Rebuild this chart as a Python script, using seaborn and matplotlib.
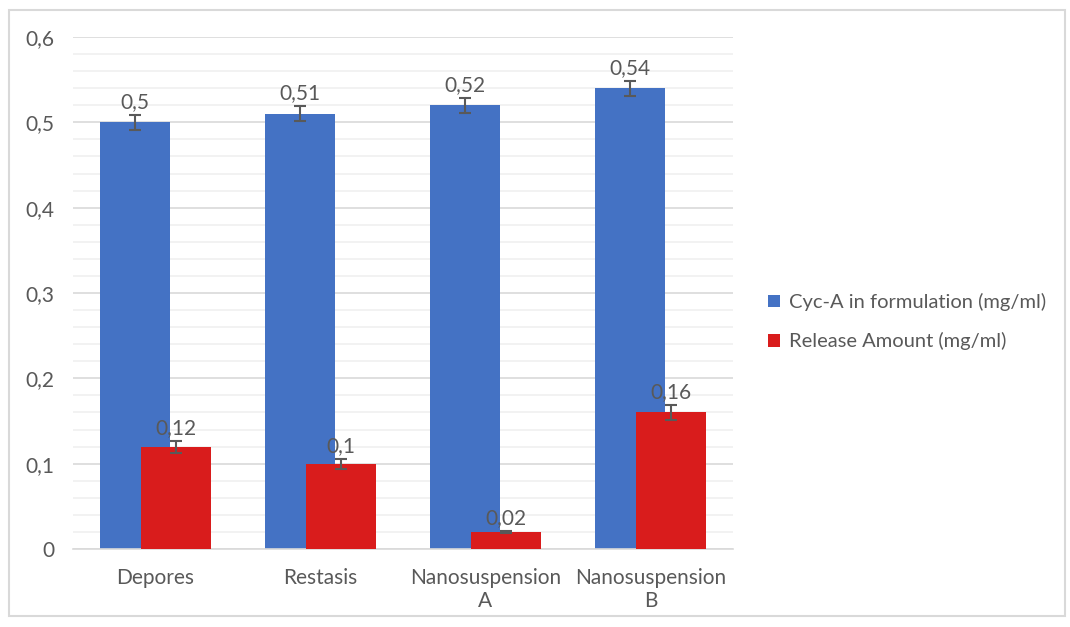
import numpy as np
import pandas as pd
import matplotlib
matplotlib.use("Agg")
import matplotlib.pyplot as plt
import seaborn as sns
from matplotlib.patches import Patch, Rectangle
from matplotlib.ticker import MultipleLocator, FuncFormatter

# data
categories = ["Depores", "Restasis", "Nanosuspension\nA", "Nanosuspension\nB"]
cyc_a = [0.50, 0.51, 0.52, 0.54]
cyc_a_err = [0.009, 0.009, 0.009, 0.009]
release = [0.12, 0.10, 0.02, 0.16]
release_err = [0.007, 0.006, 0.001, 0.009]
series_names = ["Cyc-A in formulation (mg/ml)", "Release Amount (mg/ml)"]

blue = "#4472C4"
red = "#D91C1C"
text_gray = "#595959"

sns.set_theme(style="white")
plt.rcParams["font.family"] = ["Lato", "DejaVu Sans"]

fig = plt.figure(figsize=(10.7, 6.27), dpi=100)
ax = fig.add_axes([0.068, 0.1244, 0.617, 0.8166])

idx = np.arange(len(categories))
offset = 0.125
width = 0.424

df_blue = pd.DataFrame({"pos": idx - offset, "val": cyc_a})
df_red = pd.DataFrame({"pos": idx + offset, "val": release})

sns.barplot(data=df_blue, x="pos", y="val", native_scale=True, width=width,
            color=blue, saturation=1, errorbar=None, linewidth=0, ax=ax, zorder=2)
sns.barplot(data=df_red, x="pos", y="val", native_scale=True, width=width,
            color=red, saturation=1, errorbar=None, linewidth=0, ax=ax, zorder=3)

# error bars
for df, err in [(df_blue, cyc_a_err), (df_red, release_err)]:
    ax.errorbar(df["pos"], df["val"], yerr=err, fmt="none", ecolor="#595959",
                elinewidth=1.5, capsize=4, capthick=1.5, zorder=4)

def comma(v):
    return f"{v:g}".replace(".", ",")

# data labels
for df, err in [(df_blue, cyc_a_err), (df_red, release_err)]:
    for p, v, e in zip(df["pos"], df["val"], err):
        ax.annotate(comma(v), (p, v + e), xytext=(0, 2), textcoords="offset points",
                    ha="center", va="bottom", fontsize=15, color=text_gray, zorder=5)

ax.set_xlim(-0.5, len(categories) - 0.5)
ax.set_ylim(0, 0.6)
ax.set_xticks(idx)
ax.set_xticklabels(categories, fontsize=15, color=text_gray, linespacing=1.15)
ax.yaxis.set_major_locator(MultipleLocator(0.1))
ax.yaxis.set_minor_locator(MultipleLocator(0.02))
ax.yaxis.set_major_formatter(FuncFormatter(lambda v, _: "0" if v == 0 else f"{v:.1f}".replace(".", ",")))
ax.tick_params(axis="y", labelsize=15, labelcolor=text_gray, length=0, pad=13)
ax.tick_params(axis="x", length=0, pad=14)
ax.grid(axis="y", which="major", color="#D9D9D9", linewidth=1.2)
ax.grid(axis="y", which="minor", color="#F0F0F0", linewidth=1.2)
ax.set_axisbelow(True)
ax.set_xlabel("")
ax.set_ylabel("")
for s in ["top", "right", "left"]:
    ax.spines[s].set_visible(False)
ax.spines["bottom"].set_color("#D9D9D9")
ax.spines["bottom"].set_linewidth(1.2)

handles = [Patch(facecolor=blue, edgecolor="none"), Patch(facecolor=red, edgecolor="none")]
fig.legend(handles, series_names, loc="center left", bbox_to_anchor=(0.701, 0.487),
           frameon=False, fontsize=14.5, labelcolor=text_gray, handlelength=0.6,
           handleheight=0.6, handletextpad=0.45, labelspacing=1.05)

# chart-area border
fig.patches.append(Rectangle((0.008, 0.018), 0.987, 0.966, transform=fig.transFigure,
                             fill=False, edgecolor="#D9D9D9", linewidth=1.5))

fig.savefig("out.png", dpi=100)
